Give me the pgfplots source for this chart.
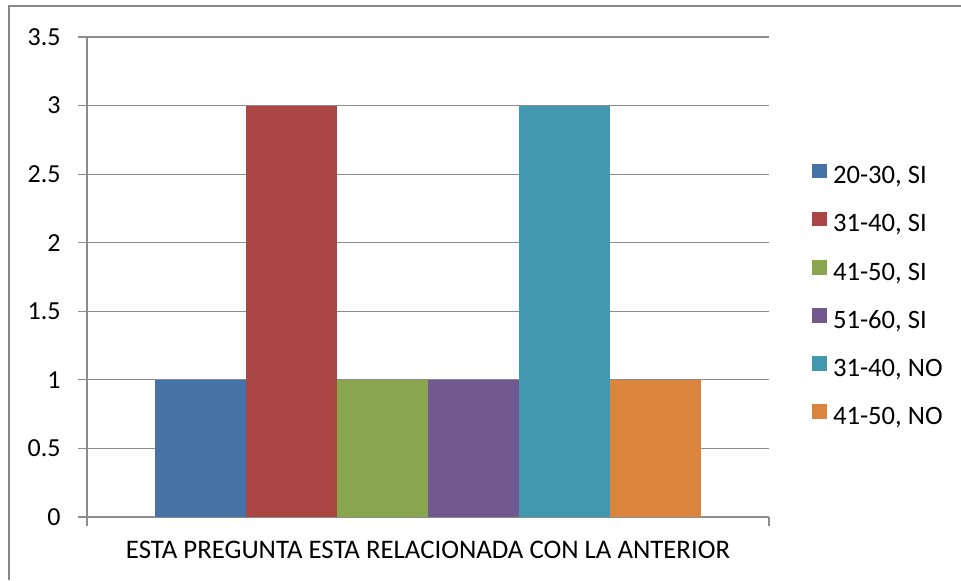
\documentclass[border=0pt]{standalone}
\usepackage{pgfplots}
\pgfplotsset{compat=1.18}
\usepackage{fontspec}
\setmainfont{Carlito}
\definecolor{cA}{HTML}{4572A7}
\definecolor{cB}{HTML}{AA4643}
\definecolor{cC}{HTML}{89A54E}
\definecolor{cD}{HTML}{71588F}
\definecolor{cE}{HTML}{4198AF}
\definecolor{cF}{HTML}{DB843D}
\definecolor{gridgray}{HTML}{8C8C8C}
\definecolor{bordergray}{HTML}{878787}
\begin{document}
\begin{tikzpicture}
\useasboundingbox (0,0) rectangle (480.5pt,290pt);
\draw[bordergray, line width=1pt] (4.5pt,0pt) -- (4.5pt,287pt) -- (480.5pt,287pt);
\begin{axis}[
  at={(43.5pt,31.5pt)}, anchor=south west,
  scale only axis, width=341pt, height=240pt,
  xmin=-0.5, xmax=0.5, ymin=0, ymax=3.5,
  ytick={0,0.5,1,1.5,2,2.5,3,3.5},
  xtick={-0.5,0.5}, xticklabels={},
  axis x line=bottom, axis y line=left,
  axis line style={-, draw=gridgray, line width=0.6pt},
  ymajorgrids, grid style={gridgray, line width=0.6pt},
  tick style={gridgray, line width=0.6pt},
  tick align=outside, major tick length=4.5pt,
  /pgf/number format/assume math mode=true,
  tick label style={font=\fontsize{13}{15}\selectfont, black},
  yticklabel style={anchor=east, inner sep=0pt, xshift=-8.5pt},
  xlabel={ESTA PREGUNTA ESTA RELACIONADA CON LA ANTERIOR},
  xlabel style={font=\fontsize{13.4}{15}\selectfont, anchor=base, at={(axis description cs:0.5,0)}, yshift=-20.7pt, inner sep=0pt},
  ybar=0pt, bar width=45.47pt,
  legend cell align=left,
  legend image code/.code={\fill[#1] (0pt,0pt) rectangle (7.5pt,7.2pt);},
  legend style={at={(1.0626,0.7364)}, anchor=north west, draw=none, fill=none,
    inner sep=0pt, row sep=11.1pt, column sep=3pt,
    font=\fontsize{13.3}{15}\selectfont,
    nodes={inner sep=0pt, text height=8.5pt, text depth=3pt}},
]
\addplot[fill=cA, draw=none] coordinates {(0,1)};
\addplot[fill=cB, draw=none] coordinates {(0,3)};
\addplot[fill=cC, draw=none] coordinates {(0,1)};
\addplot[fill=cD, draw=none] coordinates {(0,1)};
\addplot[fill=cE, draw=none] coordinates {(0,3)};
\addplot[fill=cF, draw=none] coordinates {(0,1)};
\legend{{20-30, SI},{31-40, SI},{41-50, SI},{51-60, SI},{31-40, NO},{41-50, NO}}
\end{axis}
\end{tikzpicture}
\end{document}
